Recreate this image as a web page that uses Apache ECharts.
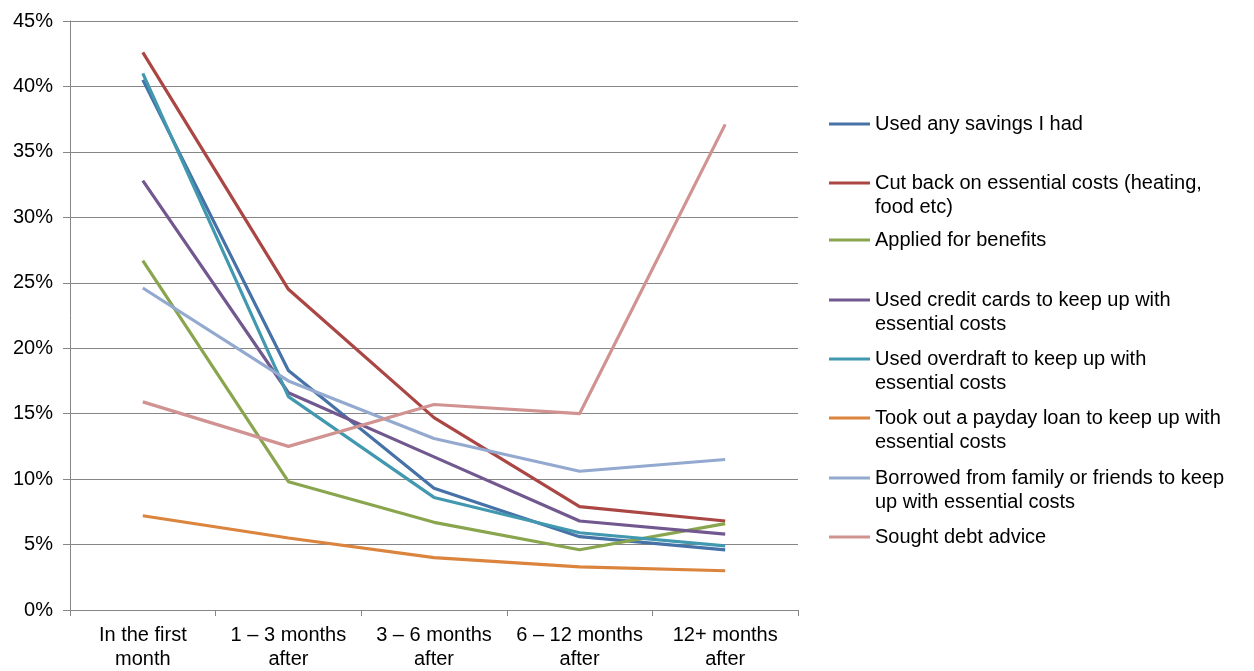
<!DOCTYPE html>
<html>
<head>
<meta charset="utf-8">
<script src="https://cdn.jsdelivr.net/npm/echarts@6/dist/echarts.min.js"></script>
<style>
  html, body { margin: 0; padding: 0; background: #ffffff; }
  #chart { width: 1254px; height: 671px; }
</style>
</head>
<body>
<div id="chart"></div>
<script>
// ---- Data ----
const categories = ['In the first\nmonth', '1 \u2013 3 months\nafter', '3 \u2013 6 months\nafter', '6 \u2013 12 months\nafter', '12+ months\nafter'];
const yTicks = [0, 5, 10, 15, 20, 25, 30, 35, 40, 45];

const usedSavings      = [40.5, 18.3, 9.3, 5.6, 4.6];
const cutBack          = [42.6, 24.5, 14.7, 7.9, 6.8];
const appliedBenefits  = [26.7, 9.8, 6.7, 4.6, 6.6];
const creditCards      = [32.8, 16.6, 11.7, 6.8, 5.8];
const overdraft        = [41.0, 16.3, 8.6, 5.9, 4.9];
const paydayLoan       = [7.2, 5.5, 4.0, 3.3, 3.0];
const borrowedFamily   = [24.6, 17.5, 13.1, 10.6, 11.5];
const debtAdvice       = [15.9, 12.5, 15.7, 15.0, 37.1];

const seriesNames = [
  'Used any savings I had',
  'Cut back on essential costs (heating,\nfood etc)',
  'Applied for benefits',
  'Used credit cards to keep up with\nessential costs',
  'Used overdraft to keep up with\nessential costs',
  'Took out a payday loan to keep up with\nessential costs',
  'Borrowed from family or friends to keep\nup with essential costs',
  'Sought debt advice'
];
const seriesData = [usedSavings, cutBack, appliedBenefits, creditCards, overdraft, paydayLoan, borrowedFamily, debtAdvice];
const colors = ['#4672A8', '#AA4643', '#89A54E', '#71588F', '#4198AF', '#DB843D', '#93A9CF', '#D19392'];

// ---- Layout ----
const FONT = '"Liberation Sans", Arial, sans-serif';
const legendIconY = [124, 183, 240, 300, 359, 418, 478, 537];
const LH = 24;

const legends = seriesNames.map((name, i) => {
  const twoLine = name.indexOf('\n') >= 0;
  return {
    orient: 'vertical',
    left: 829,
    top: twoLine ? legendIconY[i] - 36 : legendIconY[i] - 12,
    padding: 0,
    itemWidth: 41,
    itemHeight: 3,
    icon: 'rect',
    selectedMode: false,
    formatter: twoLine ? (n => ' \n' + n) : (n => n),
    textStyle: {
      fontFamily: FONT, fontSize: 20, color: '#000000', lineHeight: LH
    },
    data: [name]
  };
});

const series = seriesNames.map((name, i) => ({
  name: name,
  type: 'line',
  data: seriesData[i],
  symbol: 'none',
  smooth: false,
  lineStyle: { width: 3.2, color: colors[i] },
  itemStyle: { color: colors[i] },
  emphasis: { disabled: true },
  animation: false
}));

const chart = echarts.init(document.getElementById('chart'), null, { renderer: 'canvas' });
chart.setOption({
  backgroundColor: '#ffffff',
  animation: false,
  legend: legends,
  grid: { left: 70, right: 456, top: 21, bottom: 58, containLabel: false },
  xAxis: {
    type: 'category',
    data: categories,
    boundaryGap: true,
    axisLine: { lineStyle: { color: '#868686', width: 1 } },
    axisTick: { show: true, alignWithLabel: false, length: 6, lineStyle: { color: '#868686' } },
    axisLabel: { fontFamily: FONT, fontSize: 20, color: '#000000', lineHeight: LH, margin: 13, interval: 0 },
    splitLine: { show: false }
  },
  yAxis: {
    type: 'value',
    min: yTicks[0],
    max: yTicks[yTicks.length - 1],
    interval: 5,
    axisLine: { show: true, lineStyle: { color: '#868686', width: 1 } },
    axisTick: { show: true, length: 7, lineStyle: { color: '#868686' } },
    axisLabel: { fontFamily: FONT, fontSize: 20, color: '#000000', margin: 17, formatter: v => v + '%' },
    splitLine: { show: true, lineStyle: { color: '#868686', width: 1 } }
  },
  series: series
});
</script>
</body>
</html>
